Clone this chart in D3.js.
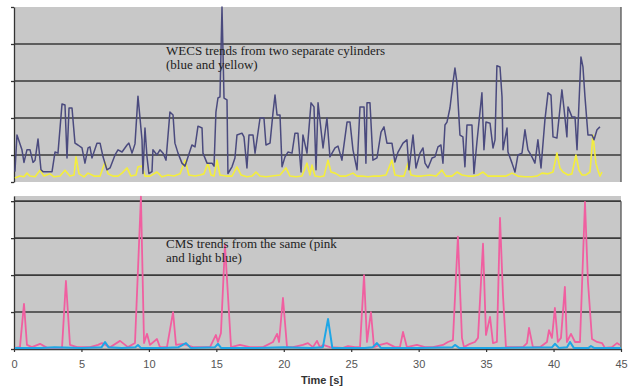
<!DOCTYPE html>
<html>
<head>
<meta charset="utf-8">
<script src="https://cdn.jsdelivr.net/npm/d3@7"></script>
<style>
  body { margin: 0; background: #fff; }
  svg { display: block; }
</style>
</head>
<body>
<svg id="chart" width="636" height="388"></svg>
<script>
// x axis ticks (seconds)
const xTicks = [0, 5, 10, 15, 20, 25, 30, 35, 40, 45];
const gridValues = [1, 2, 3, 4];

// WECS, cylinder 1 (blue) : [time s, level]
const wecsBlue = [
  [0.07,0.55],[0.22,1.54],[0.59,1.14],[0.74,0.8],[0.96,1.14],[1.19,1.14],[1.41,0.8],[1.56,0.86],[1.78,1.43],[2.0,0.6],
  [2.15,0.55],[2.82,0.55],[3.04,1.08],[3.26,1.05],[3.56,2.38],[3.78,2.35],[3.93,0.92],[4.08,2.27],[4.3,2.27],[4.52,1.32],
  [4.74,1.27],[5.04,1.19],[5.26,0.78],[5.49,1.19],[5.63,1.22],[5.78,0.92],[6.15,1.32],[6.38,1.32],[6.6,0.95],[6.89,0.6],
  [7.12,0.65],[7.49,1.0],[7.71,1.14],[8.01,1.08],[8.38,1.27],[8.52,1.32],[8.75,1.05],[8.97,1.3],[9.19,2.59],[9.49,1.41],
  [9.56,0.5],[9.71,1.73],[9.86,0.95],[10.0,0.5],[10.23,0.55],[10.3,1.14],[10.6,1.0],[10.82,1.14],[11.05,1.05],[11.27,0.86],
  [11.56,2.16],[11.79,2.08],[11.93,1.32],[12.16,1.05],[12.45,0.78],[12.68,0.7],[12.82,0.86],[13.19,1.27],[13.42,1.22],[13.64,1.78],
  [13.94,1.73],[14.01,1.05],[14.31,0.78],[14.68,0.78],[14.83,0.7],[14.97,2.16],[15.12,2.54],[15.27,2.57],[15.42,5.0],[15.57,2.54],
  [15.79,2.49],[15.86,0.5],[16.16,0.68],[16.38,0.92],[16.53,1.54],[16.9,1.59],[17.05,1.49],[17.27,0.65],[17.42,1.54],[17.72,1.54],
  [17.87,1.05],[18.24,2.0],[18.53,2.0],[18.68,1.27],[18.98,1.32],[19.2,2.14],[19.35,2.62],[19.5,2.08],[19.72,2.08],[19.87,0.68],
  [20.09,0.95],[20.31,1.08],[20.61,1.05],[20.83,1.59],[21.05,1.59],[21.28,0.54],[21.42,1.54],[21.72,1.05],[22.02,2.41],[22.24,2.3],
  [22.39,0.6],[22.54,2.41],[22.91,1.19],[23.2,2.0],[23.42,0.95],[23.8,1.19],[24.02,1.24],[24.31,0.86],[24.69,1.89],[24.91,1.89],
  [25.13,1.14],[25.43,0.6],[25.65,2.3],[25.95,2.3],[26.09,0.78],[26.17,2.41],[26.39,2.41],[26.61,0.86],[26.91,0.92],[27.21,1.62],
  [27.43,1.76],[27.65,1.32],[28.02,1.32],[28.24,0.81],[28.47,1.08],[28.84,1.32],[29.13,1.41],[29.28,0.6],[29.58,1.54],[29.8,0.65],
  [30.1,1.05],[30.32,1.19],[30.47,0.78],[30.69,0.65],[30.99,0.92],[31.21,0.95],[31.43,1.22],[31.65,1.27],[31.8,0.78],[31.95,1.81],
  [32.1,1.89],[32.32,2.27],[32.54,2.95],[32.69,3.35],[32.84,2.95],[33.06,1.54],[33.28,1.49],[33.43,0.68],[33.58,1.81],[33.95,1.81],
  [34.1,0.5],[34.32,1.35],[34.69,2.68],[34.84,1.14],[34.99,1.89],[35.29,1.86],[35.51,1.19],[35.66,1.41],[35.8,3.41],[36.03,3.38],
  [36.18,2.57],[36.25,1.14],[36.55,1.73],[36.62,1.08],[36.92,0.78],[37.14,0.54],[37.36,1.0],[37.66,1.05],[37.88,1.68],[38.1,1.14],
  [38.4,0.95],[38.62,0.78],[38.84,1.41],[39.07,0.65],[39.36,1.95],[39.59,2.68],[39.81,2.62],[39.96,1.49],[40.25,1.46],[40.62,2.76],
  [40.77,2.27],[40.99,1.49],[41.07,2.3],[41.36,2.03],[41.59,2.03],[41.74,1.14],[42.03,3.65],[42.18,3.38],[42.33,2.57],[42.55,1.54],
  [42.85,1.54],[43.0,1.41],[43.22,1.68],[43.44,1.76]
];

// WECS, cylinder 2 (yellow)
const wecsYellow = [
  [0.07,0.38],[0.44,0.43],[0.74,0.41],[0.96,0.51],[1.19,0.43],[1.56,0.41],[1.93,0.59],[2.22,0.43],[2.67,0.49],[2.97,0.41],
  [3.41,0.43],[3.78,0.59],[4.15,0.43],[4.45,0.46],[4.6,0.95],[4.82,0.49],[5.19,0.41],[5.49,0.51],[5.93,0.43],[6.38,0.43],
  [6.75,0.81],[6.97,0.49],[7.34,0.43],[7.71,0.43],[8.01,0.51],[8.38,0.65],[8.67,0.43],[9.04,0.46],[9.19,0.68],[9.49,0.7],
  [9.71,0.43],[10.08,0.43],[10.6,0.54],[10.97,0.41],[11.42,0.46],[11.86,0.43],[12.31,0.49],[12.68,0.86],[12.97,0.46],[13.42,0.43],
  [13.79,0.46],[14.08,0.49],[14.38,0.78],[14.6,0.46],[14.83,0.43],[15.05,0.86],[15.27,0.46],[15.72,0.43],[16.16,0.43],[16.53,0.68],
  [16.83,0.46],[17.27,0.41],[17.64,0.43],[17.94,0.54],[18.24,0.43],[18.68,0.41],[19.13,0.43],[19.72,0.46],[20.16,0.65],[20.46,0.43],
  [20.9,0.41],[21.35,0.43],[21.72,0.78],[21.94,0.46],[22.09,0.73],[22.31,0.43],[22.68,0.41],[22.98,0.43],[23.28,0.86],[23.5,0.54],
  [23.8,0.51],[24.17,0.43],[24.61,0.43],[25.13,0.51],[25.43,0.43],[25.8,0.43],[26.24,0.41],[26.69,0.43],[27.13,0.43],[27.58,0.46],
  [28.02,0.86],[28.24,0.46],[28.61,0.43],[28.91,0.43],[29.21,0.78],[29.43,0.46],[29.8,0.43],[30.24,0.43],[30.84,0.46],[31.28,0.43],
  [31.73,0.59],[32.02,0.43],[32.47,0.43],[32.84,0.54],[33.21,0.46],[33.65,0.43],[34.1,0.43],[34.4,0.46],[34.77,0.54],[35.14,0.43],
  [35.58,0.43],[36.03,0.43],[36.47,0.43],[36.92,0.51],[37.36,0.43],[37.88,0.41],[38.4,0.41],[38.77,0.43],[39.14,0.51],[39.59,0.49],
  [39.96,0.54],[40.25,1.05],[40.47,0.65],[40.7,0.54],[41.07,0.46],[41.36,0.49],[41.66,1.0],[41.88,0.59],[42.11,0.46],[42.4,0.46],
  [42.7,0.54],[42.92,1.54],[43.14,0.78],[43.29,0.59],[43.44,0.43],[43.59,0.54]
];

// CMS, cylinder 1 (pink)
const cmsPink = [
  [0.07,0.03],[0.44,0.05],[0.74,1.22],[0.96,0.11],[1.33,0.05],[1.93,0.14],[2.45,0.03],[3.56,0.03],[3.85,1.84],[4.15,0.11],
  [4.67,0.05],[5.63,0.05],[6.23,0.11],[6.52,0.16],[7.12,0.05],[7.86,0.22],[8.45,0.05],[8.97,0.16],[9.41,4.12],[9.64,0.16],
  [9.86,0.41],[10.08,0.11],[10.6,0.27],[10.82,0.05],[11.34,0.05],[11.79,1.0],[12.01,0.11],[12.53,0.14],[13.27,0.05],[14.53,0.05],
  [14.97,0.38],[15.12,0.19],[15.34,0.43],[15.64,2.82],[15.86,1.46],[16.09,0.05],[16.75,0.11],[17.49,0.05],[18.46,0.05],[19.2,0.19],
  [19.5,0.41],[19.65,0.19],[19.94,1.38],[20.24,0.05],[20.68,0.05],[21.42,0.11],[21.79,0.16],[22.16,0.05],[22.46,0.22],[22.68,0.05],
  [22.91,0.11],[23.42,0.05],[24.39,0.03],[24.76,0.08],[25.28,0.05],[25.65,0.05],[25.95,2.0],[26.17,0.19],[26.46,1.0],[26.69,0.05],
  [27.13,0.11],[27.65,0.16],[28.24,0.05],[28.61,0.05],[28.84,0.46],[29.13,0.05],[29.87,0.11],[30.47,0.05],[31.06,0.05],[31.8,0.11],
  [32.17,0.19],[32.54,0.24],[32.91,3.04],[33.21,0.3],[33.36,0.05],[33.8,0.14],[34.17,0.19],[34.4,0.3],[34.77,2.85],[34.99,0.38],
  [35.29,0.87],[35.51,0.16],[35.8,0.19],[36.03,3.55],[36.25,1.46],[36.47,0.05],[36.99,0.05],[37.73,0.05],[38.03,0.16],[38.18,0.57],
  [38.47,0.05],[38.99,0.05],[39.51,0.19],[39.66,0.51],[39.88,0.3],[40.1,1.11],[40.32,0.19],[40.55,0.3],[40.84,1.68],[40.99,0.19],
  [41.29,0.41],[41.59,0.19],[41.96,0.19],[42.33,3.98],[42.55,1.82],[42.85,0.27],[43.22,0.19],[43.59,0.16],[43.81,0.03],[44.33,0.05],
  [44.7,0.16],[44.92,0.11]
];

// CMS, cylinder 2 (light blue)
const cmsLightBlue = [
  [0.07,0.03],[2.0,0.03],[3.0,0.05],[5.0,0.03],[6.5,0.05],[6.75,0.19],[7.0,0.05],[8.0,0.03],[9.0,0.05],[9.19,0.11],
  [9.4,0.03],[11.0,0.03],[12.2,0.05],[12.75,0.16],[13.1,0.03],[14.9,0.05],[15.12,0.14],[15.35,0.03],[18.0,0.03],[20.0,0.05],
  [22.0,0.03],[22.9,0.05],[23.28,0.81],[23.6,0.03],[26.0,0.03],[26.6,0.05],[26.91,0.16],[27.2,0.03],[30.0,0.03],[32.5,0.05],
  [32.69,0.11],[33.0,0.03],[36.0,0.03],[39.9,0.05],[40.1,0.14],[40.4,0.03],[41.0,0.05],[41.22,0.19],[41.5,0.03],[42.6,0.03],
  [42.77,0.08],[43.0,0.03],[45.0,0.03]
];

const svg = d3.select("#chart");

const x = d3.scaleLinear().domain([0, 45]).range([14, 621]);
const yTop = d3.scaleLinear().domain([0.27, 5]).range([182, 7]);
const yBot = d3.scaleLinear().domain([0, 4.14]).range([349, 196]);

const gridColor = "#3a3a3a";

function drawPanel(y, leftTicks, rightTop) {
  const [yb, yt] = y.range();
  svg.append("rect")
    .attr("x", x(0)).attr("y", yt)
    .attr("width", x(45) - x(0)).attr("height", yb - yt)
    .attr("fill", "#c8c8c8");

  svg.append("g").selectAll("line")
    .data(gridValues)
    .enter().append("line")
    .attr("x1", x(0)).attr("x2", x(45))
    .attr("y1", d => y(d)).attr("y2", d => y(d))
    .attr("stroke", gridColor).attr("stroke-width", 1.6);

  // right border
  svg.append("line")
    .attr("x1", x(45)).attr("x2", x(45))
    .attr("y1", rightTop).attr("y2", yb)
    .attr("stroke", "#555").attr("stroke-width", 1.3);

  const ax = svg.append("g")
    .attr("transform", `translate(${x(0)},0)`)
    .call(d3.axisLeft(y).tickValues(leftTicks).tickSize(3).tickSizeOuter(0).tickFormat(""));
  ax.select(".domain").attr("stroke", "#333").attr("stroke-width", 1.3);
  ax.selectAll(".tick line").attr("stroke", "#333").attr("stroke-width", 1.3);
}

drawPanel(yTop, [0.27, 1, 2, 3, 4, 5], yTop(5));
drawPanel(yBot, [0, 1, 2, 3, 4], yBot(4));

// x axis of the lower panel
const xa = svg.append("g")
  .attr("transform", `translate(0,${yBot(0)})`)
  .call(d3.axisBottom(x).tickValues(xTicks).tickSize(3).tickSizeOuter(0).tickPadding(8));
xa.select(".domain").attr("stroke", gridColor).attr("stroke-width", 1.6);
xa.selectAll(".tick line").attr("stroke", "#333").attr("stroke-width", 1.2);
xa.selectAll(".tick text")
  .attr("fill", "#555")
  .style("font-family", "'Liberation Sans', Arial, sans-serif")
  .style("font-size", "11px");

svg.append("text")
  .attr("x", 322).attr("y", 384)
  .attr("text-anchor", "middle")
  .style("font-family", "'Liberation Sans', Arial, sans-serif")
  .style("font-size", "11px")
  .style("font-weight", "bold")
  .attr("fill", "#333")
  .text("Time [s]");

const lineTop = d3.line().x(d => x(d[0])).y(d => yTop(d[1]));
const lineBot = d3.line().x(d => x(d[0])).y(d => yBot(d[1]));

svg.append("path").datum(wecsYellow)
  .attr("d", lineTop).attr("fill", "none")
  .attr("stroke", "#f4ee3c").attr("stroke-width", 1.6).attr("stroke-linejoin", "round");
svg.append("path").datum(wecsBlue)
  .attr("d", lineTop).attr("fill", "none")
  .attr("stroke", "#4a4a7e").attr("stroke-width", 1.5).attr("stroke-linejoin", "round");

svg.append("path").datum(cmsPink)
  .attr("d", lineBot).attr("fill", "none")
  .attr("stroke", "#f05fa0").attr("stroke-width", 1.8).attr("stroke-linejoin", "round");
svg.append("path").datum(cmsLightBlue)
  .attr("d", lineBot).attr("fill", "none")
  .attr("stroke", "#1ea6e6").attr("stroke-width", 2).attr("stroke-linejoin", "round");

// annotations
const notes = [
  { lines: ["WECS trends from two separate cylinders", "(blue and yellow)"], y: 55 },
  { lines: ["CMS trends from the same (pink", "and light blue)"], y: 248 }
];
notes.forEach(n => {
  n.lines.forEach((t, i) => {
    svg.append("text")
      .attr("x", 166).attr("y", n.y + i * 14)
      .style("font-family", "'Liberation Serif', 'Times New Roman', serif")
      .style("font-size", "13px")
      .attr("fill", "#222")
      .text(t);
  });
});
</script>
</body>
</html>
